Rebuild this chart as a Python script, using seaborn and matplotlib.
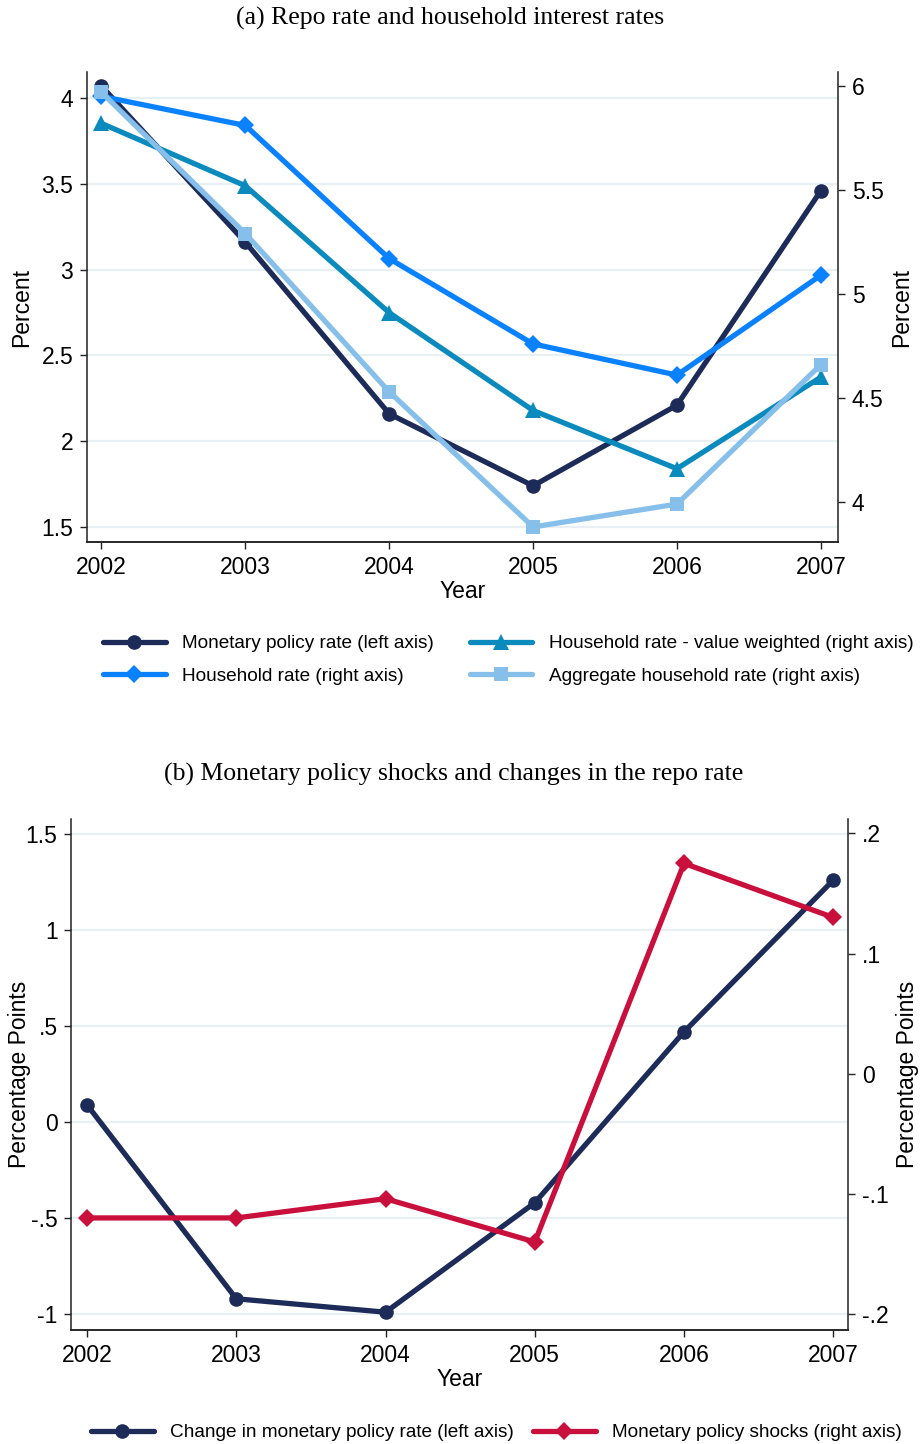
import matplotlib
matplotlib.use("Agg")
import matplotlib.pyplot as plt
import seaborn as sns

# ---- data -------------------------------------------------------------
years = [2002, 2003, 2004, 2005, 2006, 2007]

policy_rate = [4.07, 3.16, 2.16, 1.74, 2.21, 3.46]          # left axis
household_rate = [5.95, 5.81, 5.17, 4.76, 4.61, 5.09]       # right axis
household_rate_vw = [5.82, 5.52, 4.91, 4.44, 4.16, 4.60]    # right axis
aggregate_rate = [5.97, 5.29, 4.53, 3.88, 3.99, 4.66]       # right axis

policy_change = [0.09, -0.92, -0.99, -0.42, 0.47, 1.26]     # left axis
policy_shocks = [-0.120, -0.120, -0.104, -0.140, 0.175, 0.130]  # right axis

a_left_ticks = [1.5, 2, 2.5, 3, 3.5, 4]
a_left_labels = ["1.5", "2", "2.5", "3", "3.5", "4"]
a_right_ticks = [4, 4.5, 5, 5.5, 6]
a_right_labels = ["4", "4.5", "5", "5.5", "6"]
b_left_ticks = [-1, -0.5, 0, 0.5, 1, 1.5]
b_left_labels = ["-1", "-.5", "0", ".5", "1", "1.5"]
b_right_ticks = [-0.2, -0.1, 0, 0.1, 0.2]
b_right_labels = ["-.2", "-.1", "0", ".1", ".2"]

title_a = "(a) Repo rate and household interest rates"
title_b = "(b) Monetary policy shocks and changes in the repo rate"

# ---- style ------------------------------------------------------------
sns.set_style("white")
plt.rcParams["font.family"] = ["Liberation Sans", "DejaVu Sans"]
plt.rcParams["text.color"] = "black"
plt.rcParams["axes.labelcolor"] = "black"
plt.rcParams["xtick.color"] = "black"
plt.rcParams["ytick.color"] = "black"

NAVY = "#1c2b58"
BLUE = "#0a82ff"
TEAL = "#0a8abd"
LIGHT = "#86c0ea"
RED = "#c9103c"
GRID = "#e9f0f3"
SPINE = "#222222"

TICK_FS = 16.5
LABEL_FS = 16.5
LEGEND_FS = 13.7
TITLE_FS = 18.5
LW = 3.8

fig = plt.figure(figsize=(9.22, 14.44), dpi=100)


def style_axes(ax, ax2, left_ticks, left_labels, right_ticks, right_labels):
    ax.set_yticks(left_ticks)
    ax.set_yticklabels(left_labels)
    ax2.set_yticks(right_ticks)
    ax2.set_yticklabels(right_labels)
    ax.set_xticks(years)
    ax.set_xticklabels([str(y) for y in years])
    ax.yaxis.grid(True, color=GRID, linewidth=1.6)
    ax.xaxis.grid(False)
    ax2.grid(False)
    for a in (ax, ax2):
        a.spines["top"].set_visible(False)
        for s in ("left", "right", "bottom"):
            a.spines[s].set_color(SPINE)
            a.spines[s].set_linewidth(1.1)
        a.tick_params(axis="both", which="major", direction="out", length=5,
                      width=1.0, color=SPINE, labelcolor="black",
                      labelsize=TICK_FS, pad=5)
    ax.spines["right"].set_visible(False)
    ax2.spines["left"].set_visible(False)
    ax.tick_params(axis="y", left=True, right=False)
    ax.tick_params(axis="x", bottom=True)
    ax2.tick_params(axis="y", right=True, left=False)
    ax.set_xlabel("Year", fontsize=LABEL_FS, labelpad=1)


def place_ylabels(ax, ax2, text, left_x, right_x):
    ax.set_ylabel(text, fontsize=LABEL_FS)
    ax2.set_ylabel(text, fontsize=LABEL_FS)
    for a, x in ((ax, left_x), (ax2, right_x)):
        a.yaxis.label.set_verticalalignment("center")
        a.yaxis.set_label_coords(x, 0.5)


def draw(ax, y, color, marker, ms, label):
    sns.lineplot(x=years, y=y, ax=ax, color=color, linewidth=LW, marker=marker,
                 markersize=ms, markeredgewidth=0, legend=False)
    line = ax.lines[-1]
    line.set_label(label)
    line.set_solid_joinstyle("miter")
    return line


# ---- panel (a) --------------------------------------------------------
axa = fig.add_axes([0.0944, 0.6247, 0.8146, 0.3253])
axa2 = axa.twinx()
h1 = draw(axa, policy_rate, NAVY, "o", 10.5, "Monetary policy rate (left axis)")
h2 = draw(axa2, household_rate, BLUE, "D", 9.5, "Household rate (right axis)")
h3 = draw(axa2, household_rate_vw, TEAL, "^", 11.5, "Household rate - value weighted (right axis)")
h4 = draw(axa2, aggregate_rate, LIGHT, "s", 10.5, "Aggregate household rate (right axis)")
axa.set_xlim(2001.90, 2007.12)
axa.set_ylim(1.413, 4.151)
axa2.set_ylim(3.808, 6.066)
style_axes(axa, axa2, a_left_ticks, a_left_labels, a_right_ticks, a_right_labels)
place_ylabels(axa, axa2, "Percent", (22 - 87) / 751.0, (902 - 87) / 751.0)
axa2.set_zorder(axa.get_zorder() + 1)
axa2.patch.set_visible(False)
fig.text(0.488, 0.9875, title_a, family=["Liberation Serif", "DejaVu Serif"],
         fontsize=TITLE_FS, ha="center", va="center")

fig.legend(handles=[h1, h2, h3, h4], loc="center", ncol=2,
           bbox_to_anchor=(0.551, 0.543), frameon=False, fontsize=LEGEND_FS,
           handlelength=3.3, handletextpad=0.85, columnspacing=1.9,
           labelspacing=0.8)

# ---- panel (b) --------------------------------------------------------
axb = fig.add_axes([0.0775, 0.0789, 0.8425, 0.3539])
axb2 = axb.twinx()
g1 = draw(axb, policy_change, NAVY, "o", 10.5, "Change in monetary policy rate (left axis)")
g2 = draw(axb2, policy_shocks, RED, "D", 9.5, "Monetary policy shocks (right axis)")
axb.set_xlim(2001.896, 2007.10)
axb.set_ylim(-1.083, 1.578)
axb2.set_ylim(-0.2133, 0.2119)
style_axes(axb, axb2, b_left_ticks, b_left_labels, b_right_ticks, b_right_labels)
place_ylabels(axb, axb2, "Percentage Points", (20 - 71.5) / 776.8, (908 - 71.5) / 776.8)
axb2.set_zorder(axb.get_zorder() + 1)
axb2.patch.set_visible(False)
fig.text(0.492, 0.4635, title_b, family=["Liberation Serif", "DejaVu Serif"],
         fontsize=TITLE_FS, ha="center", va="center")

fig.legend(handles=[g1, g2], loc="center", ncol=2,
           bbox_to_anchor=(0.5383, 0.0078), frameon=False, fontsize=LEGEND_FS,
           handlelength=3.3, handletextpad=0.85, columnspacing=1.0)

fig.savefig("out.png", dpi=100)
